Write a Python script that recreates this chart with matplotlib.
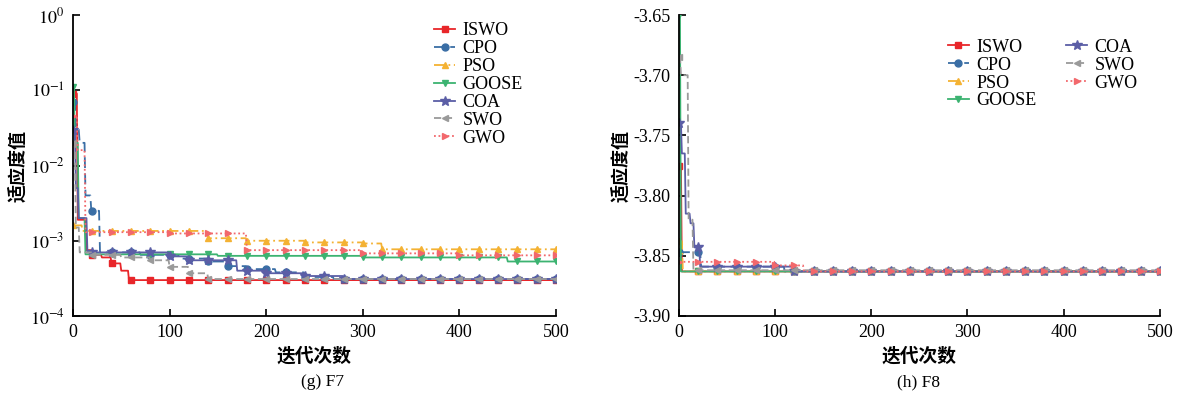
import numpy as np
import matplotlib
matplotlib.use("Agg")
import matplotlib.pyplot as plt
from matplotlib.ticker import FixedLocator, FuncFormatter, NullLocator

plt.rcParams['font.family'] = ['Liberation Serif', 'Noto Sans CJK SC']
plt.rcParams['mathtext.fontset'] = 'stix'

names = ["ISWO", "CPO", "PSO", "GOOSE", "COA", "SWO", "GWO"]
colors = ["#e8262a", "#3a6ea5", "#f4b233", "#3cb371", "#5b5ea6", "#9a9a9a", "#f2686c"]
markers = ["s", "o", "^", "v", "*", "<", ">"]
styles = ["-", (0, (6, 3)), (0, (6, 2, 1, 2)), "-", "-", (0, (4, 2)), (0, (1, 1.5))]

# F7: iteration where value changes, value (convergence curves, step held)
f7_x = {
    "ISWO": [0, 5, 14, 20, 30, 40, 50, 58],
    "CPO": [0, 3, 7, 13, 19, 28, 70, 110, 140, 160, 180, 210, 240, 270],
    "PSO": [0, 10, 140, 180, 240, 300, 320],
    "GOOSE": [0, 2, 6, 13, 150, 300, 450],
    "COA": [0, 3, 6, 15, 100, 120, 170, 200, 240, 280],
    "SWO": [0, 3, 7, 20, 50, 80, 100, 120, 140],
    "GWO": [0, 5, 13, 100, 180, 300, 400],
}
f7_y = {
    "ISWO": [9e-2, 1.9e-3, 7.5e-4, 6.5e-4, 6e-4, 5e-4, 4e-4, 3e-4],
    "CPO": [7e-2, 3e-2, 2e-2, 4e-3, 2.5e-3, 7e-4, 6.5e-4, 5.8e-4, 5.3e-4, 4.6e-4, 4.2e-4, 3.8e-4, 3.3e-4, 3.1e-4],
    "PSO": [1.6e-3, 1.35e-3, 1.08e-3, 1.0e-3, 9.5e-4, 9.2e-4, 7.7e-4],
    "GOOSE": [1.1e-1, 2e-2, 2e-3, 6.6e-4, 6.3e-4, 6e-4, 5.3e-4],
    "COA": [3e-2, 5e-3, 2e-3, 7e-4, 6.2e-4, 5.5e-4, 4e-4, 3.7e-4, 3.4e-4, 3.1e-4],
    "SWO": [2e-2, 1.5e-3, 7e-4, 6.5e-4, 6e-4, 5.5e-4, 4.5e-4, 3.7e-4, 3.1e-4],
    "GWO": [4.5e-2, 1.6e-2, 1.3e-3, 1.25e-3, 7.5e-4, 6.8e-4, 6.4e-4],
}

# F8
f8_x = {
    "ISWO": [0, 3],
    "CPO": [0, 23, 110],
    "PSO": [0, 4],
    "GOOSE": [0, 2],
    "COA": [0, 3, 7, 12, 16, 22, 120],
    "SWO": [0, 2, 10, 15],
    "GWO": [0, 100, 130],
}
f8_y = {
    "ISWO": [-3.775, -3.863],
    "CPO": [-3.847, -3.859, -3.863],
    "PSO": [-3.838, -3.863],
    "GOOSE": [-3.65, -3.863],
    "COA": [-3.74, -3.765, -3.815, -3.823, -3.843, -3.859, -3.863],
    "SWO": [-3.685, -3.70, -3.82, -3.862],
    "GWO": [-3.855, -3.858, -3.863],
}

iters = np.arange(0, 501)


def held(xs, ys):
    idx = np.searchsorted(xs, iters, side="right") - 1
    return np.asarray(ys)[idx]


fig = plt.figure(figsize=(11.9, 4.0), dpi=100)
ax1 = fig.add_axes([0.0613, 0.21, 0.406, 0.7525])
ax2 = fig.add_axes([0.5706, 0.21, 0.404, 0.7525])

for ax, dx, dy in [(ax1, f7_x, f7_y), (ax2, f8_x, f8_y)]:
    for n, c, m, ls in zip(names, colors, markers, styles):
        ax.plot(iters, held(dx[n], dy[n]), color=c, ls=ls, lw=1.3,
                marker=m, ms=5 if m != "*" else 7, markevery=20, label=n)
    ax.set_xlim(0, 500)
    ax.set_xticks([0, 100, 200, 300, 400, 500])
    for s in ["top", "right"]:
        ax.spines[s].set_visible(False)
    ax.spines["left"].set_linewidth(1.3)
    ax.spines["bottom"].set_linewidth(1.3)
    ax.tick_params(direction="in", length=5, width=1.2, labelsize=13, pad=6)
    ax.set_xlabel("迭代次数", fontsize=13.5, fontweight="bold", family=["Noto Sans CJK SC"], labelpad=4)
    ax.set_ylabel("适应度值", fontsize=13, fontweight="bold", family=["Noto Sans CJK SC"], labelpad=2)

ax1.set_yscale("log")
ax1.set_ylim(1e-4, 1e0)
ax1.yaxis.set_major_locator(FixedLocator([1e-4, 1e-3, 1e-2, 1e-1, 1e0]))
ax1.yaxis.set_minor_locator(NullLocator())
ax1.yaxis.set_major_formatter(FuncFormatter(lambda v, p: r"$10^{%d}$" % round(np.log10(v))))

ax2.set_ylim(-3.90, -3.65)
ax2.set_yticks([-3.90, -3.85, -3.80, -3.75, -3.70, -3.65])
ax2.yaxis.set_major_formatter(FuncFormatter(lambda v, p: "%.2f" % v))

ax1.legend(loc="upper left", bbox_to_anchor=(0.713, 1.03), frameon=False, fontsize=13,
           labelspacing=0.05, handlelength=1.2, handletextpad=0.4)
ax2.legend(loc="upper left", bbox_to_anchor=(0.525, 0.975), frameon=False, fontsize=13, ncol=2,
           labelspacing=0.05, handlelength=1.2, handletextpad=0.4, columnspacing=1.6)

fig.text(0.271, 0.035, "(g) F7", ha="center", fontsize=12.5)
fig.text(0.772, 0.035, "(h) F8", ha="center", fontsize=12.5)

fig.savefig("out.png", dpi=100)
